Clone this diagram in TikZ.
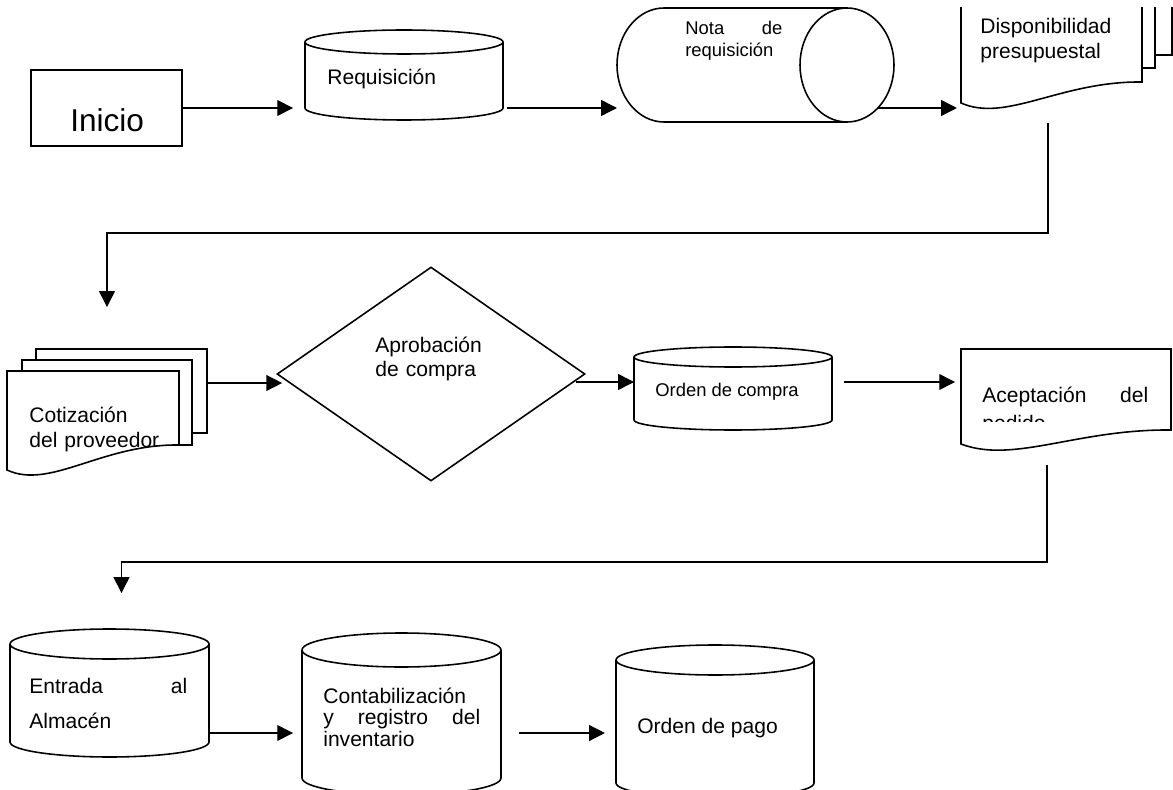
\documentclass[tikz,border=0pt]{standalone}
\usepackage{fontspec}
\setmainfont{Liberation Sans}
\usetikzlibrary{shapes.geometric,arrows.meta}

\newcommand{\pxu}{0.57pt}

\tikzset{
  shp/.style={line width=0.9pt},
  slot/.style={inner sep=0pt, outer sep=0pt},
  page/.style={draw, fill=white, line width=0.9pt, inner sep=0pt, outer sep=0pt},
  txt/.style={inner sep=0pt, anchor=base west, align=left, font=\fontsize{12}{13.7}\selectfont},
  arr/.style={line width=0.8pt, -{Triangle[length=9pt, width=9pt]}}
}

% vertical cylinder: name, left, top, right, bottom, ellipse radius
\newcommand{\cylv}[6]{%
  \node[slot, minimum width={(#4-#2)*\pxu}, minimum height={(#5-#3)*\pxu}] (#1) at ({(#2+#4)/2},{(#3+#5)/2}) {};
  \draw[shp, fill=white] (#2,{#3+#6}) -- (#2,{#5-#6})
    arc[start angle=180, end angle=0, x radius={(#4-#2)/2}, y radius=#6] -- (#4,{#3+#6});
  \draw[shp] ({(#2+#4)/2},{#3+#6}) ellipse[x radius={(#4-#2)/2}, y radius=#6];%
}

% document with wavy bottom: name, left, top, right, right bottom, left bottom
\newcommand{\docv}[6]{%
  \node[slot, minimum width={(#4-#2)*\pxu}, minimum height={(#6+6-#3)*\pxu}] (#1) at ({(#2+#4)/2},{(#3+#6+6)/2}) {};
  \draw[shp, fill=white] (#2,#3) -- (#4,#3) -- (#4,#5)
    .. controls ({#2+0.55*(#4-#2)},{#5-1}) and ({#2+0.25*(#4-#2)},{#6+20}) .. (#2,#6) -- cycle;%
}

\begin{document}
\begin{tikzpicture}[x=0.57pt, y=-0.57pt]
\useasboundingbox (0,0) rectangle (1173,790);
\clip (0,0) rectangle (1173,790);

% Drawing box Inicio
\node[page, minimum width=151*\pxu, minimum height=76*\pxu] (ini) at (106.5,108) {};
\node[txt, font=\fontsize{18}{20}\selectfont] (ini-t) at (70,132) {Inicio};

% Drawing cylinder Requisicion
\cylv{req}{305}{30}{503}{120}{12}
\node[txt] (req-t) at (327,85) {Requisición};

% Drawing lying cylinder Nota de requisicion
\node[slot, minimum width=277*\pxu, minimum height=114*\pxu] (nota) at (755.5,65) {};
\draw[shp] (847,8) -- (664,8) arc[start angle=270, end angle=90, x radius=47, y radius=57] -- (847,122);
\draw[shp] (847,65) ellipse[x radius=47, y radius=57];
\node[txt, text width=97*\pxu, font=\fontsize{10.5}{12.5}\selectfont] (nota-t) at (685,35) {Nota\hfill de\\requisición};

% Drawing documents Disponibilidad presupuestal
\begin{scope}
\clip (900,8) rectangle (1173,200);
\node[page, minimum width=185*\pxu, minimum height=75*\pxu] (disp3) at (1079.5,17.5) {};
\node[page, minimum width=181*\pxu, minimum height=88*\pxu] (disp2) at (1064.5,24) {};
\docv{disp}{961}{-20}{1142}{82}{103}
\end{scope}
\node[txt, text width=150*\pxu] (disp-t) at (980,34) {Disponibilidad\\presupuestal};

% Drawing documents Cotizacion del proveedor
\node[page, minimum width=171*\pxu, minimum height=84*\pxu] (cot3) at (121.5,391) {};
\node[page, minimum width=170*\pxu, minimum height=85*\pxu] (cot2) at (107,402.5) {};
\docv{cot}{7}{371}{179}{445}{470}
\node[txt, text width=145*\pxu] (cot-t) at (29,423) {Cotización\\del proveedor};

% Drawing decision Aprobacion de compra
\node[diamond, draw, shp, inner sep=0pt, minimum width=308*\pxu, minimum height=214*\pxu] (apr) at (431,374) {};
\node[txt, text width=120*\pxu] (apr-t) at (375,352) {Aprobación\\de compra};

% Drawing cylinder Orden de compra
\cylv{oc}{634}{347}{832}{430}{10}
\node[txt, font=\fontsize{10.5}{12.5}\selectfont] (oc-t) at (655,397) {Orden de compra};

% Drawing document Aceptacion del pedido
\docv{acep}{961}{349}{1171}{430}{444}
\begin{scope}
\clip (961,349) rectangle (1171,421);
\node[txt, text width=166*\pxu, font=\fontsize{12}{16}\selectfont] (acep-t) at (982,402) {Aceptación\hfill del\\pedido};
\end{scope}

% Drawing cylinders of the last row
\cylv{ent}{10}{629}{209}{757}{15}
\node[txt, text width=158*\pxu, font=\fontsize{12}{20}\selectfont] (ent-t) at (29,693) {Entrada\hfill al\\Almacén};
\cylv{con}{302}{633}{501}{795}{17}
\node[txt, text width=157*\pxu, font=\fontsize{12}{12.5}\selectfont] (con-t) at (323,703) {Contabilización\\y\hfill registro\hfill del\\inventario};
\cylv{pago}{616}{645}{814}{798}{15}
\node[txt] (pago-t) at (637,733) {Orden de pago};

% Drawing connectors
\draw[arr, shorten >=6.8pt] (ini.east) -- (ini.east -| req.west);
\draw[arr] ([shift={(4,33)}]req.east) coordinate (a1) -- (a1 -| nota.west);
\draw[arr, shorten >=2.3pt] ([shift={(-16,43)}]nota.east) coordinate (a2) -- (a2 -| disp.west);
\draw[arr, shorten >=30.2pt] ([shift={(-3.5,14)}]disp.south) -- ++(0,110) -| (cot2.north);
\draw[arr, shorten >=-3.4pt] ([shift={(0,-8)}]cot3.east) coordinate (a3) -- (a3 -| apr.west);
\draw[arr] ([shift={(-10,8)}]apr.east) coordinate (a4) -- (a4 -| oc.west);
\draw[arr, shorten >=3.4pt] ([shift={(12,-6.5)}]oc.east) coordinate (a5) -- (a5 -| acep.west);
\draw[arr, shorten >=20.5pt] ([shift={(-19,15)}]acep.south) -- ++(0,97) -| ([shift={(12,0)}]ent.north);
\draw[arr, shorten >=5.1pt] ([shift={(0,40)}]ent.east) coordinate (a7) -- (a7 -| con.west);
\draw[arr, shorten >=6.3pt] ([shift={(18,19)}]con.east) coordinate (a8) -- (a8 -| pago.west);
\end{tikzpicture}
\end{document}
